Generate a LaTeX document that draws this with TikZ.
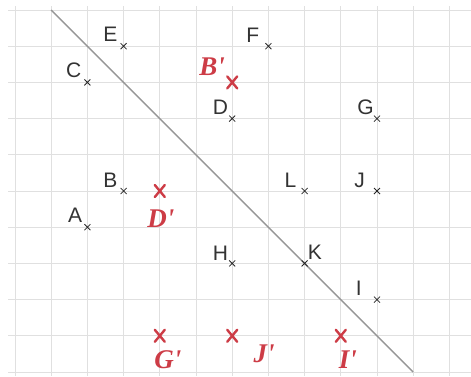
\documentclass[tikz,border=0pt]{standalone}
\usepackage{fontspec}
\setmainfont{Liberation Sans}
\newfontfamily\handfont{Liberation Serif}
\definecolor{gridc}{RGB}{224,224,224}
\definecolor{axisc}{RGB}{150,150,150}
\definecolor{redpen}{RGB}{205,60,70}
\tikzset{
  gridline/.style={gridc, line width=0.9pt},
  axisline/.style={axisc, line width=1.4pt},
  bx/.pic={\draw[black!85, line width=0.8pt] (-3pt,-3pt)--(3pt,3pt) (-3pt,3pt)--(3pt,-3pt);},
  rx/.pic={\draw[redpen, line width=2.4pt, line cap=round] (-5pt,-6pt)--(5pt,6pt) (-5pt,6pt)--(5pt,-6pt);},
  ptlabel/.style={inner sep=0pt, anchor=base east, font=\fontsize{21}{21}\selectfont, text=black!80},
  redlabel/.style={inner sep=0pt, font=\handfont\itshape\bfseries\fontsize{27}{27}\selectfont, text=redpen}
}
\begin{document}
\begin{tikzpicture}[x=1pt,y=-1pt]
\useasboundingbox (0,0) rectangle (471,376);
\fill[white] (0,0) rectangle (471,376);
\foreach \k in {0,...,10} \draw[gridline] (8,{10+36.2*\k}) -- (471,{10+36.2*\k});
\foreach \k in {0,...,12} \draw[gridline] ({15+36.2*\k},6) -- ({15+36.2*\k},376);
\begin{scope}[shift={(15,10)}, x=36.2pt, y=-36.2pt]
  % axis of symmetry
  \coordinate (s) at (1,0);
  \coordinate (e) at (11,10);
  \draw[axisline] (s) -- (e);
  % original points
  \coordinate (E) at (3,1);
  \coordinate (C) at (2,2);
  \coordinate (F) at (7,1);
  \coordinate (D) at (6,3);
  \coordinate (G) at (10,3);
  \coordinate (B) at (3,5);
  \coordinate (A) at (2,6);
  \coordinate (L) at (8,5);
  \coordinate (J) at (10,5);
  \coordinate (H) at (6,7);
  \coordinate (K) at (8,7);
  \coordinate (I) at (10,8);
  \foreach \p in {E,C,F,D,G,B,A,L,J,H,K,I} \pic at (\p) {bx};
  \node[ptlabel, xshift=-6pt, yshift=5pt] (lE) at (E) {E};
  \node[ptlabel, xshift=-6pt, yshift=5pt] (lC) at (C) {C};
  \node[ptlabel, xshift=-9pt, yshift=4pt] (lF) at (F) {F};
  \node[ptlabel, xshift=-4pt, yshift=4pt] (lD) at (D) {D};
  \node[ptlabel, xshift=-3pt, yshift=4pt] (lG) at (G) {G};
  \node[ptlabel, xshift=-6pt, yshift=4pt] (lB) at (B) {B};
  \node[ptlabel, xshift=-5pt, yshift=5pt] (lA) at (A) {A};
  \node[ptlabel, xshift=-8pt, yshift=4pt] (lL) at (L) {L};
  \node[ptlabel, xshift=-12pt, yshift=4pt] (lJ) at (J) {J};
  \node[ptlabel, xshift=-4pt, yshift=3pt] (lH) at (H) {H};
  \node[ptlabel, anchor=base west, xshift=3pt, yshift=4pt] (lK) at (K) {K};
  \node[ptlabel, xshift=-15pt, yshift=4pt] (lI) at (I) {I};
  % images (red)
  \coordinate (Bp) at (6,2);
  \coordinate (Dp) at (4,5);
  \coordinate (Gp) at (4,9);
  \coordinate (Jp) at (6,9);
  \coordinate (Ip) at (9,9);
  \foreach \p in {Bp,Dp,Gp,Jp,Ip} \pic at (\p) {rx};
  \node[redlabel] (lBp) at ([xshift=-20pt, yshift=16pt]Bp) {B'};
  \node[redlabel] (lDp) at ([xshift=1pt, yshift=-28pt]Dp) {D'};
  \node[redlabel] (lGp) at ([xshift=8pt, yshift=-24pt]Gp) {G'};
  \node[redlabel] (lJp) at ([xshift=32pt, yshift=-18pt]Jp) {J'};
  \node[redlabel] (lIp) at ([xshift=7pt, yshift=-24pt]Ip) {I'};
\end{scope}
\end{tikzpicture}
\end{document}
